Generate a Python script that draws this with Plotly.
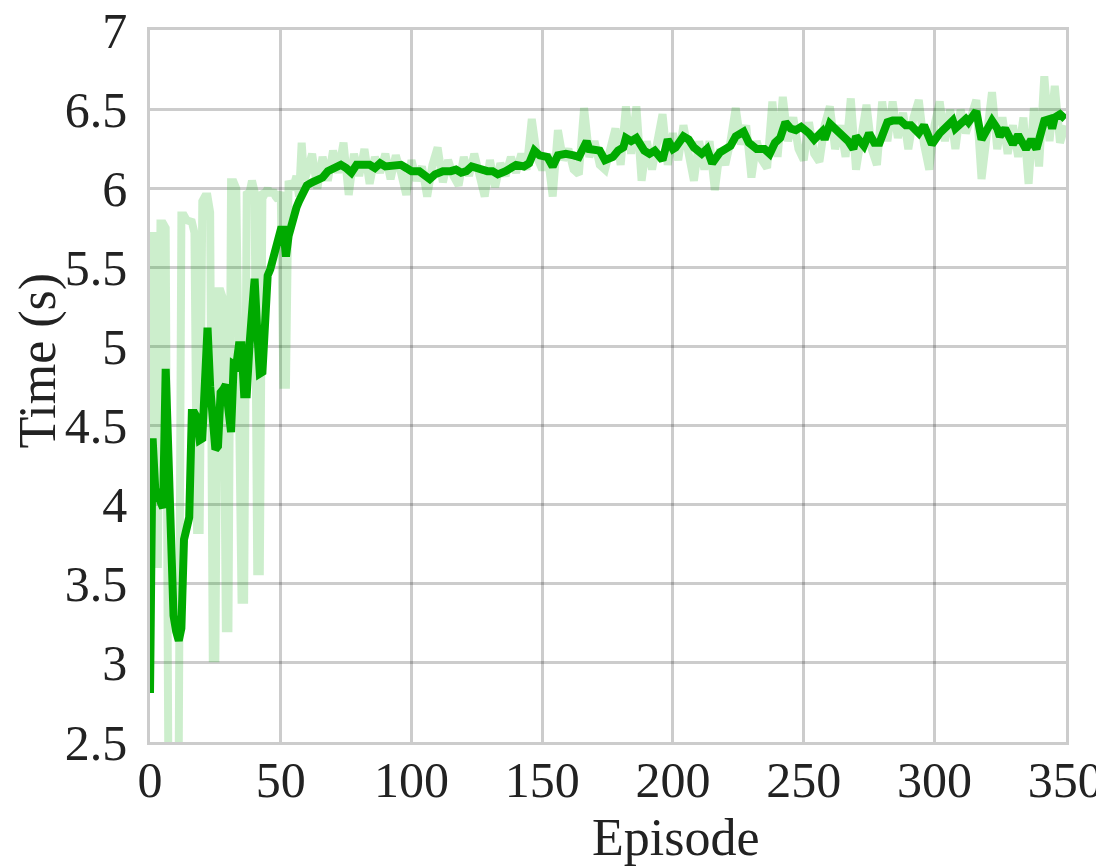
"""Training curve: episode duration (raw + smoothed)."""

import plotly.graph_objects as go

# raw episode durations, one per episode early on, then every second episode
raw_ep = list(range(0, 61)) + list(range(62, 351, 2))
raw_time = [
    2.82, 5.70, 5.70, 3.60, 5.78, 5.78, 5.75, 2.40, 2.30, 2.30,
    2.40, 2.45, 5.83, 5.83, 5.80, 5.79, 5.79, 5.72, 3.84, 3.84,
    5.92, 5.95, 5.95, 5.85, 3.03, 3.03, 5.35, 5.35, 5.30, 3.22,
    3.22, 6.04, 6.04, 6.00, 4.90, 3.40, 3.40, 5.98, 5.97, 6.05,
    5.98, 3.58, 3.58, 5.98, 5.97, 6.00, 5.96, 5.99, 5.95, 5.93,
    5.98, 4.76, 4.76, 6.05, 6.00, 6.02, 6.08, 5.95, 6.29, 6.05,
    6.10,
    6.22, 6.00, 6.20, 6.05, 6.24, 6.10, 6.29, 5.96, 6.22, 6.08,
    6.25, 6.03, 6.20, 6.10, 6.22, 6.06, 6.21, 6.10, 5.96, 6.18,
    6.05, 6.14, 5.95, 6.15, 6.26, 6.04, 6.18, 6.08, 6.02, 6.20,
    6.08, 6.22, 6.06, 5.95, 6.18, 6.01, 6.16, 6.08, 6.20, 6.10,
    6.22, 6.12, 6.44, 6.20, 6.12, 6.22, 5.95, 6.37, 6.18, 6.25,
    6.12, 6.09, 6.51, 6.20, 6.30, 6.15, 6.12, 6.25, 6.38, 6.15,
    6.52, 6.22, 6.52, 6.05, 6.30, 6.12, 6.28, 6.47, 6.15, 6.35,
    6.18, 6.40, 6.22, 6.05, 6.30, 6.12, 6.30, 5.99, 6.25, 6.15,
    6.30, 6.51, 6.28, 6.40, 6.07, 6.30, 6.18, 6.13, 6.55, 6.20,
    6.58, 6.30, 6.45, 6.25, 6.18, 6.42, 6.22, 6.17, 6.40, 6.52,
    6.25, 6.40, 6.20, 6.57, 6.12, 6.35, 6.53, 6.25, 6.15, 6.55,
    6.30, 6.55, 6.32, 6.48, 6.25, 6.45, 6.56, 6.28, 6.12, 6.40,
    6.55, 6.30, 6.50, 6.25, 6.50, 6.35, 6.45, 6.56, 6.06, 6.40,
    6.61, 6.25, 6.45, 6.22, 6.40, 6.20, 6.45, 6.03, 6.51, 6.14,
    6.71, 6.30, 6.65, 6.29, 6.40,
]

# smoothed curve
smooth_ep = list(range(0, 61)) + [
    62, 64, 66, 68, 71, 73, 75, 77, 79, 82, 84, 86, 88, 90, 93, 96, 98,
    100, 103, 105, 107, 109, 112, 115, 117, 119, 121, 123, 126, 129, 131,
    133, 136, 138, 140, 143, 145, 147, 149, 152, 154, 156, 159, 162, 164,
    167, 168, 172, 174, 177, 179, 181, 182, 184, 186, 189, 191, 193, 196,
    198, 200, 201, 204, 206, 208, 211, 213, 215, 218, 220, 222, 224, 227,
    229, 232, 235, 237, 239, 241, 243, 245, 247, 249, 252, 254, 257, 258,
    260, 263, 265, 267, 269, 270, 273, 275, 277, 279, 282, 284, 287, 289,
    291, 294, 296, 299, 302, 305, 307, 308, 312, 313, 316, 318, 322, 324,
    325, 327, 330, 332, 335, 337, 339, 342, 344, 345, 346, 348, 350,
]
smooth_time = [
    2.81, 4.42, 4.10, 4.05, 4.00, 3.98, 4.86, 4.30, 3.70, 3.30,
    3.20, 3.14, 3.22, 3.78, 3.85, 3.92, 4.58, 4.58, 4.55, 4.41,
    4.42, 4.80, 5.12, 4.75, 4.45, 4.35, 4.37, 4.71, 4.73, 4.76,
    4.60, 4.46, 4.89, 4.88, 5.01, 5.01, 4.70, 4.70, 5.00, 5.25,
    5.43, 5.10, 4.83, 4.84, 5.20, 5.45, 5.49, 5.55, 5.62, 5.68,
    5.74, 5.74, 5.57, 5.70, 5.78, 5.83, 5.88, 5.92, 5.96, 5.98,
    6.02,
    6.04, 6.05, 6.07, 6.11, 6.13, 6.15, 6.13, 6.10, 6.15, 6.15, 6.15,
    6.13, 6.16, 6.14, 6.14, 6.15, 6.13, 6.11, 6.11, 6.09, 6.06, 6.09,
    6.11, 6.11, 6.12, 6.10, 6.11, 6.14, 6.12, 6.11, 6.11, 6.09, 6.11,
    6.13, 6.15, 6.14, 6.16, 6.24, 6.21, 6.20, 6.14, 6.21, 6.22, 6.21,
    6.20, 6.30, 6.25, 6.24, 6.18, 6.20, 6.24, 6.26, 6.32, 6.30, 6.32,
    6.24, 6.22, 6.24, 6.18, 6.31, 6.25, 6.26, 6.33, 6.31, 6.26, 6.22,
    6.25, 6.16, 6.23, 6.25, 6.27, 6.33, 6.36, 6.29, 6.25, 6.25, 6.22,
    6.29, 6.32, 6.42, 6.38, 6.37, 6.39, 6.35, 6.31, 6.36, 6.31, 6.41,
    6.36, 6.34, 6.30, 6.25, 6.33, 6.27, 6.35, 6.29, 6.29, 6.42, 6.43,
    6.43, 6.40, 6.40, 6.35, 6.40, 6.28, 6.35, 6.40, 6.43, 6.38, 6.44,
    6.42, 6.49, 6.31, 6.43, 6.38, 6.33, 6.38, 6.28, 6.34, 6.25, 6.31,
    6.25, 6.43, 6.44, 6.38, 6.45, 6.47, 6.44,
]

x_ticks = [0, 50, 100, 150, 200, 250, 300, 350]
y_ticks = [2.5, 3, 3.5, 4, 4.5, 5, 5.5, 6, 6.5, 7]

FONT = "Liberation Serif, Times New Roman, serif"
GRID = "rgba(0,0,0,0.2)"
TICK_FONT = dict(family=FONT, size=50, color="#222")
TITLE_FONT = dict(family=FONT, size=52, color="#222")

fig = go.Figure()
fig.add_trace(
    go.Scatter(
        x=raw_ep, y=raw_time, mode="lines",
        line=dict(color="rgba(0,170,0,0.2)", width=8),
        showlegend=False, hoverinfo="skip",
    )
)
fig.add_trace(
    go.Scatter(
        x=smooth_ep, y=smooth_time, mode="lines",
        line=dict(color="#00aa00", width=8),
        showlegend=False,
    )
)

axis_common = dict(
    showgrid=True, gridcolor=GRID, gridwidth=2.5,
    showline=True, linecolor=GRID, linewidth=2.5, mirror=True,
    zeroline=False, tickfont=TICK_FONT, ticklabeloverflow="allow",
)
fig.update_xaxes(
    range=[0, 350.3], tickvals=x_ticks, ticktext=[str(v) for v in x_ticks],
    ticks="", ticklabelstandoff=-8,
    **axis_common,
)
fig.update_yaxes(
    range=[2.5, 7.003], tickvals=y_ticks, ticktext=[f"{v:g}" for v in y_ticks],
    ticks="outside", ticklen=10, tickcolor="rgba(0,0,0,0)",
    **axis_common,
)

# axis titles as annotations: the reference has them off-centre
fig.add_annotation(
    text="Episode", xref="paper", yref="paper", x=0.574, y=-0.134,
    xanchor="center", yanchor="middle", showarrow=False, font=TITLE_FONT,
)
fig.add_annotation(
    text="Time (s)", xref="paper", yref="paper", x=-0.122, y=0.536,
    xanchor="center", yanchor="middle", textangle=-90, showarrow=False,
    font=TITLE_FONT,
)

# page body adds an 8px offset, so the figure is sized to fit inside it
fig.update_layout(
    width=1096, height=858,
    margin=dict(l=142, r=38, t=22, b=124, autoexpand=False),
    plot_bgcolor="white", paper_bgcolor="white",
)
fig.write_html("out.html")
